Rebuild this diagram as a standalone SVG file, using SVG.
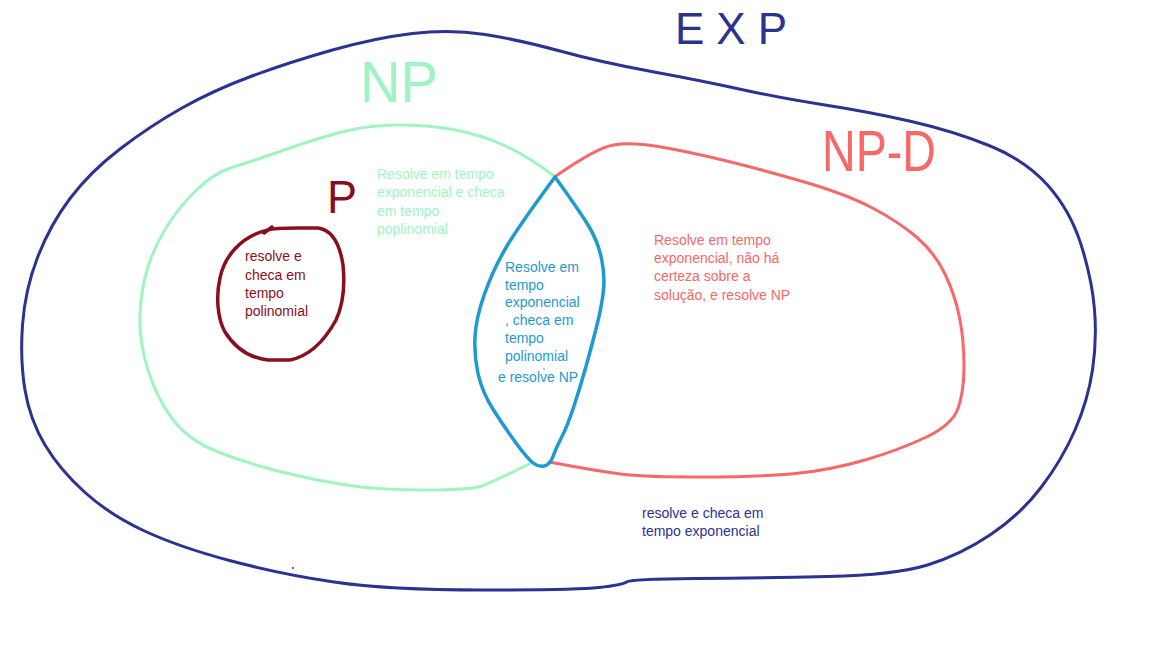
<svg xmlns="http://www.w3.org/2000/svg" width="1152" height="648" viewBox="0 0 1152 648">
  <style>
    .set { fill: none; stroke-linecap: round; stroke-linejoin: round; }
    .navy { stroke: #2b3291; fill: #2b3291; }
    .mint { stroke: #9ef5c2; fill: #9ef5c2; }
    .salmon { stroke: #f76868; fill: #f76868; }
    .cyan { stroke: #1e9ad0; fill: #1e9ad0; }
    .wine { stroke: #8a0f1e; fill: #8a0f1e; }
    path.set { fill: none; }
    text.lbl { font-family: "Liberation Sans", Arial, sans-serif; font-size: 14px; stroke: none; }
    text.big { font-family: "Liberation Sans", Arial, sans-serif; stroke: none; }
  </style>
  <rect width="1152" height="648" fill="#ffffff"/>

  <!-- no connectors: the sets only overlap -->
  <g id="connectors"></g>

  <g id="exp">
    <path class="set navy" stroke-width="3" d="M485 34.5 Q520 40 560 51 Q600 62 651.5 71.5 Q703 81 741.5 89.5 Q780 98 825 105 Q870 112 911.5 121.5 Q953 131 989 145.5 Q1025 160 1047.5 185 Q1070 210 1081 244.5 Q1092 279 1094.5 309.5 Q1097 340 1092.5 370 Q1088 400 1075 430 Q1062 460 1041 487.5 Q1020 515 990 535 Q960 555 927.5 565 Q895 575 827.5 576.5 Q760 578 695.5 578.5 Q631 579 626.5 582 Q622 585 599 587.5 Q576 590 482 590 Q388 590 334 582 Q280 574 229.5 560.5 Q179 547 144.5 531 Q110 515 85 492.5 Q60 470 45 445 Q30 420 25 390 Q20 360 22.5 325 Q25 290 37.5 257.5 Q50 225 70 198.5 Q90 172 120 149 Q150 126 182 108 Q214 90 252 76 Q290 62 332.5 50 Q375 38 412.5 33.5 Q450 29 485 34.5 Z"/>
    <text class="big navy" x="675" y="44" font-size="44" textLength="112" lengthAdjust="spacing">EXP</text>
    <circle cx="293" cy="568" r="1" fill="#2b3291"/>
    <text class="lbl navy" x="642" y="518">resolve e checa em</text>
    <text class="lbl navy" x="642" y="536">tempo exponencial</text>
  </g>

  <g id="np">
    <path class="set mint" stroke-width="3" d="M554 176 Q529 157 505.5 146 Q482 135 455.5 130 Q429 125 400 125 Q371 125 346 131 Q321 137 285.5 149.5 Q250 162 232 167.5 Q214 173 196.5 190 Q179 207 166.5 227 Q154 247 147.5 268.5 Q141 290 140 315 Q139 340 147.5 368.5 Q156 397 172 418.5 Q188 440 217 451.5 Q246 463 279.5 471.5 Q313 480 346 485 Q379 490 424 490 Q469 490 480 486.5 Q491 483 531 463"/>
    <text class="big mint" x="360" y="102" font-size="58" textLength="78" lengthAdjust="spacingAndGlyphs">NP</text>
    <text class="lbl mint" x="377" y="179">Resolve em tempo</text>
    <text class="lbl mint" x="377" y="197">exponencial e checa</text>
    <text class="lbl mint" x="377" y="216">em tempo</text>
    <text class="lbl mint" x="377" y="234">poplinomial</text>
  </g>

  <g id="npd">
    <path class="set salmon" stroke-width="3" d="M556 176 Q596 148 613.5 145 Q631 142 658 146.5 Q685 151 720.5 159.5 Q756 168 801 181 Q846 194 872.5 208 Q899 222 917 237.5 Q935 253 945 274 Q955 295 959.5 317.5 Q964 340 964 366 Q964 392 958 408.5 Q952 425 925.5 437.5 Q899 450 865 460 Q831 470 795.5 473.5 Q760 477 703 477 Q646 477 624.5 474.5 Q603 472 549 462"/>
    <text class="big salmon" x="822" y="171" font-size="58" textLength="114" lengthAdjust="spacingAndGlyphs">NP-D</text>
    <text class="lbl salmon" x="654" y="245">Resolve em tempo</text>
    <text class="lbl salmon" x="654" y="263">exponencial, não há</text>
    <text class="lbl salmon" x="654" y="281">certeza sobre a</text>
    <text class="lbl salmon" x="654" y="300">solução, e resolve NP</text>
  </g>

  <g id="np-complete">
    <path class="set cyan" stroke-width="3.5" d="M555 177 Q581 213 589.5 227.5 Q598 242 601.5 258.5 Q605 275 603.5 290 Q602 305 597 325 Q592 345 586 366.5 Q580 388 573.5 407.5 Q567 427 561.5 437.5 Q556 448 553 456.5 Q550 465 544 466 Q538 467 532.5 462.5 Q527 458 516 443 Q505 428 493.5 410 Q482 392 478 373.5 Q474 355 475 336.5 Q476 318 484.5 294 Q493 270 505.5 248.5 Q518 227 555 177"/>
    <text class="lbl cyan" x="505" y="272">Resolve em</text>
    <text class="lbl cyan" x="505" y="290">tempo</text>
    <text class="lbl cyan" x="505" y="307">exponencial</text>
    <text class="lbl cyan" x="505" y="325">, checa em</text>
    <text class="lbl cyan" x="505" y="343">tempo</text>
    <text class="lbl cyan" x="505" y="361">polinomial</text>
    <circle cx="544" cy="369" r="0.8" fill="#1e9ad0"/>
    <text class="lbl cyan" x="498" y="382">e resolve NP</text>
  </g>

  <g id="p">
    <path class="set wine" stroke-width="3.5" d="M268 230 C275 227,300 228,318 228 C332 230,340 245,343 265 C345 285,343 305,336 320 C325 340,310 356,290 360 L268 360 C250 358,235 348,225 332 C217 318,216 295,220 278 C224 258,240 236,268 230 Z M264 233 L272 227"/>
    <text class="big wine" x="327" y="213" font-size="46" textLength="30" lengthAdjust="spacingAndGlyphs">P</text>
    <text class="lbl wine" x="245" y="261">resolve e</text>
    <text class="lbl wine" x="245" y="280">checa em</text>
    <text class="lbl wine" x="245" y="298">tempo</text>
    <text class="lbl wine" x="245" y="316">polinomial</text>
  </g>
</svg>
